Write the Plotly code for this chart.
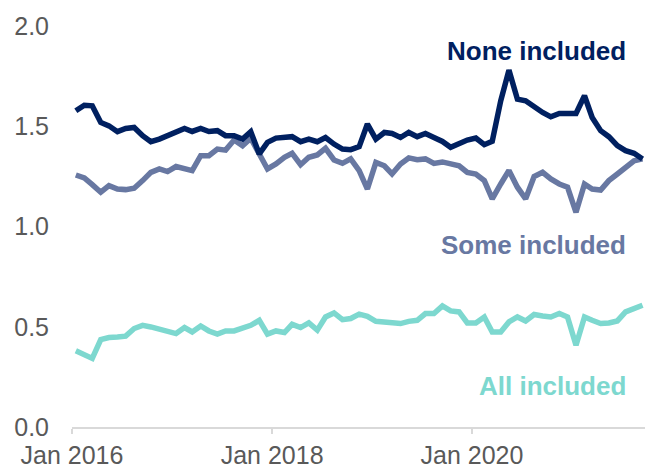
import pandas as pd
import plotly.graph_objects as go

# Monthly observations, Jan 2016 – Sep 2021 (plotted mid-month)
months = pd.date_range("2016-01-01", "2021-09-01", freq="MS") + pd.Timedelta(days=14)

none_included = [
    1.577, 1.605, 1.602, 1.519, 1.502, 1.473, 1.489, 1.494, 1.453, 1.423, 1.436, 1.453,
    1.474, 1.489, 1.474, 1.489, 1.474, 1.478, 1.453, 1.453, 1.436, 1.473, 1.362, 1.420,
    1.441, 1.444, 1.448, 1.423, 1.436, 1.423, 1.444, 1.411, 1.386, 1.383, 1.398, 1.511,
    1.436, 1.469, 1.464, 1.444, 1.469, 1.448, 1.464, 1.444, 1.424, 1.395, 1.415, 1.431,
    1.441, 1.408, 1.425, 1.627, 1.780, 1.635, 1.627, 1.594, 1.569, 1.547, 1.564, 1.564,
    1.564, 1.652, 1.544, 1.478, 1.448, 1.403, 1.378, 1.365, 1.337,
]

some_included = [
    1.257, 1.242, 1.209, 1.171, 1.204, 1.187, 1.184, 1.191, 1.229, 1.270, 1.287, 1.274,
    1.299, 1.292, 1.279, 1.353, 1.353, 1.386, 1.381, 1.431, 1.403, 1.440, 1.358, 1.287,
    1.312, 1.345, 1.365, 1.308, 1.345, 1.357, 1.390, 1.332, 1.315, 1.337, 1.279, 1.187,
    1.320, 1.303, 1.262, 1.312, 1.342, 1.333, 1.337, 1.315, 1.322, 1.310, 1.303, 1.270,
    1.262, 1.229, 1.138, 1.212, 1.279, 1.196, 1.138, 1.249, 1.270, 1.237, 1.212, 1.196,
    1.071, 1.212, 1.187, 1.182, 1.229, 1.262, 1.295, 1.328, 1.337,
]

all_included = [
    0.380, 0.358, 0.342, 0.436, 0.446, 0.449, 0.453, 0.491, 0.507, 0.499, 0.488, 0.478,
    0.466, 0.496, 0.474, 0.504, 0.479, 0.463, 0.479, 0.479, 0.491, 0.507, 0.532, 0.463,
    0.479, 0.471, 0.512, 0.496, 0.519, 0.483, 0.549, 0.569, 0.535, 0.541, 0.563, 0.552,
    0.527, 0.521, 0.516, 0.516, 0.527, 0.532, 0.566, 0.566, 0.604, 0.579, 0.574, 0.519,
    0.519, 0.549, 0.474, 0.474, 0.524, 0.549, 0.529, 0.561, 0.554, 0.549, 0.566, 0.549,
    0.408, 0.549, 0.532, 0.516, 0.519, 0.529, 0.574, 0.590, 0.607,
]

series_names = ["None included", "Some included", "All included"]
series_colors = ["#002060", "#6878a2", "#7dd8cf"]
label_y = [1.875, 0.908, 0.204]

tick_dates = ["2016-01-01", "2018-01-01", "2020-01-01"]
tick_text = ["Jan 2016", "Jan 2018", "Jan 2020"]
y_ticks = [0.0, 0.5, 1.0, 1.5, 2.0]

fig = go.Figure()

# Draw from bottom to top so the darkest series sits on top
for name, values, color in [
    (series_names[2], all_included, series_colors[2]),
    (series_names[1], some_included, series_colors[1]),
    (series_names[0], none_included, series_colors[0]),
]:
    fig.add_trace(go.Scatter(
        x=months, y=values, mode="lines", name=name,
        line=dict(color=color, width=5.5),
        hoverinfo="skip",
    ))

# Direct labels instead of a legend
for name, color, yv in zip(series_names, series_colors, label_y):
    fig.add_annotation(
        x=0.970, xref="paper", y=yv, yref="y",
        text=f"<b>{name}</b>", showarrow=False,
        xanchor="right", yanchor="middle",
        font=dict(family="Liberation Sans, Arial, sans-serif", size=26, color=color),
    )

fig.update_layout(
    width=645, height=468,
    margin=dict(l=72, r=0, t=26, b=41),
    paper_bgcolor="white", plot_bgcolor="white",
    showlegend=False,
    font=dict(family="Liberation Sans, Arial, sans-serif", size=25, color="#595959"),
)
fig.update_xaxes(
    type="date", range=["2016-01-01", "2021-09-24"],
    tickvals=tick_dates, ticktext=tick_text,
    showline=True, linecolor="#d9d9d9", linewidth=2,
    ticks="outside", tickcolor="#d9d9d9", ticklen=5, tickwidth=2,
    showgrid=False, zeroline=False, automargin=False,
    tickfont=dict(size=25, color="#595959"),
)
fig.update_yaxes(
    range=[0, 2], tickvals=y_ticks, ticktext=[f"{v:.1f}" for v in y_ticks],
    showline=False, showgrid=False, zeroline=False, ticks="",
    ticklabelstandoff=22, automargin=False,
    tickfont=dict(size=25, color="#595959"),
)

fig.write_html("out.html")
